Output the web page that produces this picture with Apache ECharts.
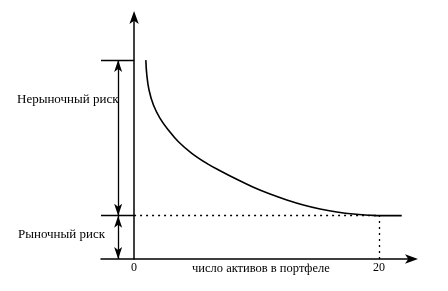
<!DOCTYPE html>
<html><head><meta charset="utf-8">
<script src="https://cdn.jsdelivr.net/npm/echarts@6/dist/echarts.min.js"></script>
<style>html,body{margin:0;padding:0;background:#fff}#c{width:448px;height:291px}</style>
</head><body><div id="c"></div>
<script>
// Data
const assetsCount = [0.96, 1.04, 1.22, 1.58, 2.12, 2.80, 3.62, 4.71, 6.07, 7.02, 8.38, 9.74, 11.10, 12.47, 13.82, 15.18, 16.55, 17.90, 19.27, 20.0, 21.85];
const totalRisk   = [13.45, 12.44, 11.43, 10.41, 9.51, 8.72, 7.93, 7.15, 6.40, 5.97, 5.39, 4.85, 4.39, 3.99, 3.65, 3.38, 3.18, 3.04, 2.96, 2.93, 2.93];
const marketRisk = 2.93;
const riskAtOne = 13.45;
const diversifiedN = 20;
const xTickLabels = [0, 20];
const bracketX = -1.3;
const xMin = -2.7, xMax = 22.85, yMax = 16.5;
const textNonMarket = 'Нерыночный риск';
const textMarket = 'Рыночный риск';
const textXName = 'число активов в портфеле';

const font = 'Liberation Serif';
const chart = echarts.init(document.getElementById('c'), null, {renderer: 'canvas'});
const curve = assetsCount.map((x, i) => [x, totalRisk[i]]);

chart.setOption({
  animation: false,
  backgroundColor: '#fff',
  grid: {left: 101, right: 34, top: 15, bottom: 32},
  xAxis: {
    type: 'value', min: xMin, max: xMax,
    splitLine: {show: false},
    axisLine: {onZero: true, symbol: ['none', 'arrow'], symbolSize: [7, 13], symbolOffset: [0, 4],
      lineStyle: {color: '#000', width: 1.5}},
    axisTick: {show: false},
    axisLabel: {customValues: xTickLabels, color: '#000', fontFamily: font, fontSize: 12, margin: 3},
  },
  yAxis: {
    type: 'value', min: 0, max: yMax,
    splitLine: {show: false},
    axisLine: {onZero: true, symbol: ['none', 'arrow'], symbolSize: [7, 13], symbolOffset: [0, 4],
      lineStyle: {color: '#000', width: 1.5}},
    axisTick: {show: false},
    axisLabel: {show: false}
  },
  graphic: [
    {type: 'text', left: 17, top: 93, style: {text: textNonMarket, font: '13px ' + font, fill: '#000'}},
    {type: 'text', left: 18, top: 228, style: {text: textMarket, font: '13px ' + font, fill: '#000'}},
    {type: 'text', left: 192, top: 262, style: {text: textXName, font: '12.5px ' + font, fill: '#000'}}
  ],
  series: [
    {
      type: 'line', data: curve, smooth: 0.4, symbol: 'none',
      lineStyle: {color: '#000', width: 1.6},
      markLine: {
        silent: true, animation: false, label: {show: false},
        symbol: ['none', 'none'],
        lineStyle: {color: '#000', width: 1.3, type: 'solid'},
        data: [
          [{coord: [xMin, riskAtOne]}, {coord: [0, riskAtOne]}],
          [{coord: [xMin, marketRisk]}, {coord: [0, marketRisk]}],
          [{coord: [0, marketRisk], lineStyle: {type: [2, 4]}}, {coord: [diversifiedN, marketRisk]}],
          [{coord: [diversifiedN, 0], lineStyle: {type: [2, 4]}}, {coord: [diversifiedN, marketRisk]}],
          [{coord: [bracketX, marketRisk], symbol: 'arrow', symbolSize: [6, 12]}, {coord: [bracketX, riskAtOne], symbol: 'arrow', symbolSize: [6, 12]}],
          [{coord: [bracketX, 0], symbol: 'arrow', symbolSize: [6, 12]}, {coord: [bracketX, marketRisk], symbol: 'arrow', symbolSize: [6, 12]}]
        ]
      }
    }
  ]
});
</script></body></html>
